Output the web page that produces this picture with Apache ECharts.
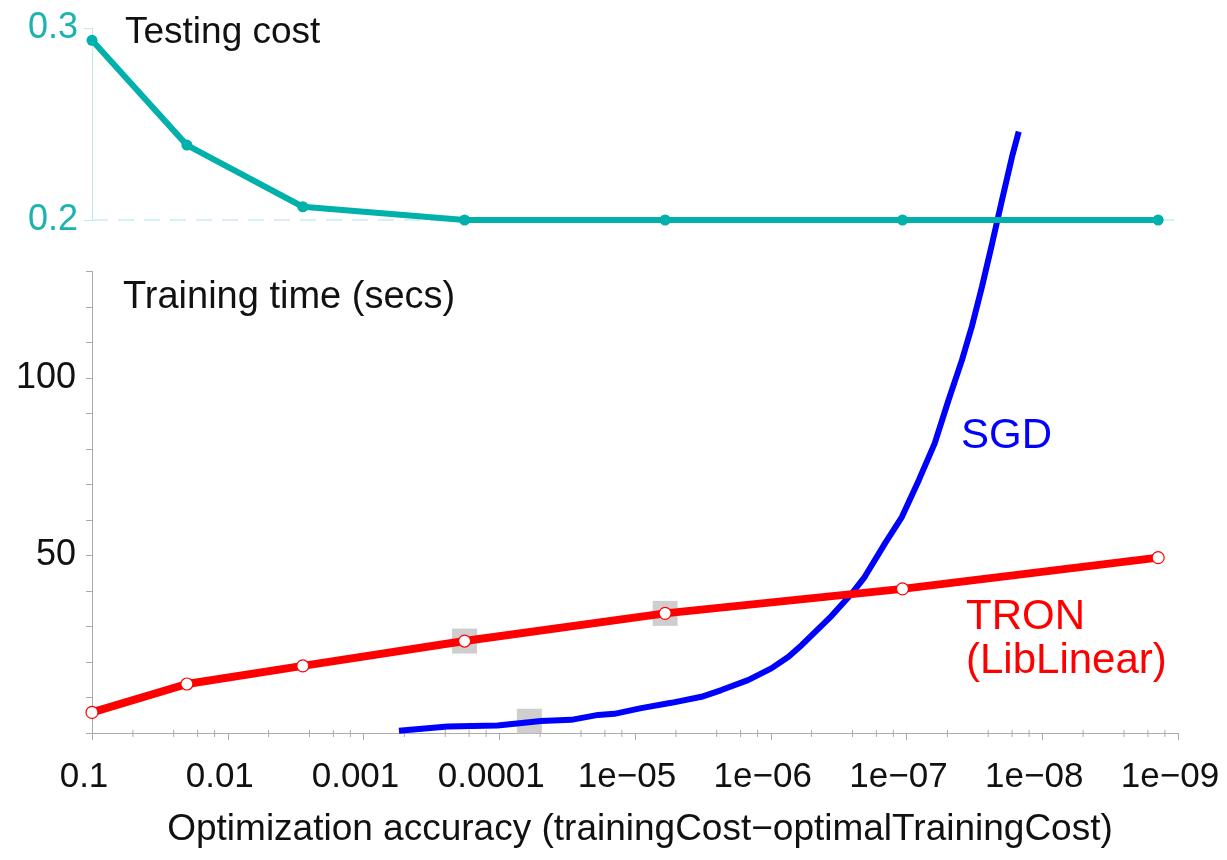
<!DOCTYPE html>
<html><head><meta charset="utf-8">
<script src="https://cdn.jsdelivr.net/npm/echarts@6/dist/echarts.min.js"></script>
<style>html,body{margin:0;background:#fff}#c{width:1227px;height:860px}</style>
</head><body><div id="c"></div>
<script>
// x axis decades (-log10 of accuracy) 1..9 and their labels
const xTickLabels = ['0.1','0.01','0.001','0.0001','1e\u221205','1e\u221206','1e\u221207','1e\u221208','1e\u221209'];
const minorTickFactors = [2, 4, 6, 8];

// Testing cost & TRON (LibLinear) are measured at the same accuracies
const tronAcc  = [0.1, 0.02, 0.0028, 0.00018, 6e-6, 1.07e-7, 1.4e-9];
const testCost = [0.2936, 0.2390, 0.2069, 0.2, 0.2, 0.2, 0.2];
const tronTime = [5.8, 13.8, 18.9, 25.9, 33.7, 40.6, 49.4];

// SGD training time curve
const sgdAcc  = [5.48e-4, 2.40e-4, 1.03e-4, 4.92e-5, 2.95e-5, 1.87e-5, 1.42e-5, 9.0e-6, 5.4e-6, 3.24e-6,
                 2.31e-6, 1.47e-6, 9.9e-7, 7.4e-7, 5.9e-7, 3.56e-7, 2.54e-7, 2.03e-7, 1.44e-7, 1.08e-7,
                 8.1e-8, 6.2e-8, 4.9e-8, 3.9e-8, 3.3e-8, 2.78e-8, 2.34e-8, 1.98e-8, 1.67e-8, 1.49e-8];
const sgdTime = [0.65, 1.8, 2.1, 3.4, 3.7, 5.1, 5.4, 7.0, 8.5, 10.2,
                 12.1, 14.9, 18.2, 21.5, 24.8, 33.0, 39.2, 44.0, 53.4, 60.9,
                 71.3, 81.6, 93.8, 105.1, 114.5, 125.7, 137.9, 150.1, 162.3, 169.4];

// grey highlight squares
const markAcc  = [1.8e-4, 6e-5, 6e-6];
const markTime = [25.9, 3.3, 33.7];

const dec = a => -Math.log10(a);
const minorTicks = [];
for (let d = 1; d < 9; d++) minorTickFactors.forEach(f => minorTicks.push([dec(Math.pow(10, -d) / f), 0]));

const FONT = '"Liberation Sans", Arial, Helvetica, sans-serif';
const TEAL = '#00b0aa';

const chart = echarts.init(document.getElementById('c'), null, {renderer: 'canvas'});
chart.setOption({
  animation: false,
  backgroundColor: '#fff',
  textStyle: {fontFamily: FONT},
  grid: [
    {left: 92, right: 49, top: 28, height: 192, containLabel: false, outerBoundsMode: 'none'},
    {left: 92, right: 49, top: 271.5, bottom: 127, containLabel: false, outerBoundsMode: 'none'}
  ],
  xAxis: [
    {gridIndex: 0, type: 'value', min: 1, max: 9, interval: 1, show: false},
    {gridIndex: 1, type: 'value', min: 1, max: 9, interval: 1,
     axisLine: {lineStyle: {color: '#aaaaaa', width: 1}},
     axisTick: {length: 7, lineStyle: {color: '#aaaaaa'}},
     splitLine: {show: false},
     axisLabel: {color: '#111', fontSize: 35, fontFamily: FONT, margin: 27, padding: [0, 16, 0, 0],
                 formatter: v => xTickLabels[Math.round(v) - 1]},
     name: 'Optimization accuracy (trainingCost\u2212optimalTrainingCost)',
     nameLocation: 'middle', nameGap: 78,
     nameTextStyle: {color: '#111', fontSize: 37, fontFamily: FONT, padding: [0, 0, 0, 10]}}
  ],
  yAxis: [
    {gridIndex: 0, type: 'value', min: 0.2, max: 0.3, interval: 0.1,
     axisLine: {show: true, lineStyle: {color: '#bfeaea', width: 1}},
     axisTick: {show: true, length: 8, lineStyle: {color: '#bfeaea'}},
     splitLine: {show: false},
     axisLabel: {color: '#1ab3ae', fontSize: 36, fontFamily: FONT, margin: 14,
                 formatter: v => v.toFixed(1)}},
    {gridIndex: 1, type: 'value', min: 0, max: 130, interval: 10,
     axisLine: {show: true, lineStyle: {color: '#aaaaaa', width: 1}},
     axisTick: {show: true, length: 6, lineStyle: {color: '#aaaaaa'}},
     splitLine: {show: false},
     axisLabel: {color: '#111', fontSize: 36, fontFamily: FONT, margin: 16,
                 formatter: v => (v === 50 || v === 100) ? String(v) : ''}}
  ],
  graphic: [
    {type: 'text', left: 125, top: 14, style: {text: 'Testing cost', fontSize: 37, fontFamily: FONT, fill: '#111'}},
    {type: 'text', left: 123, top: 279, style: {text: 'Training time (secs)', fontSize: 38, fontFamily: FONT, fill: '#111'}},
    {type: 'text', left: 961, top: 415, style: {text: 'SGD', fontSize: 42, fontFamily: FONT, fill: '#0000ff'}},
    {type: 'text', left: 966, top: 595, style: {text: 'TRON\n(LibLinear)', fontSize: 42, lineHeight: 44, fontFamily: FONT, fill: '#ff0000'}}
  ],
  series: [
    {type: 'scatter', xAxisIndex: 1, yAxisIndex: 1, symbol: 'rect', symbolSize: 25, z: 1,
     itemStyle: {color: '#c2c2c2'}, silent: true,
     data: markAcc.map((a, i) => [dec(a), markTime[i]])},
    {type: 'custom', xAxisIndex: 1, yAxisIndex: 1, silent: true, clip: false, z: 1,
     renderItem: (params, api) => {
       const p = api.coord([api.value(0), api.value(1)]);
       return {type: 'line', shape: {x1: p[0], y1: p[1] - 3, x2: p[0], y2: p[1] + 4},
               style: {stroke: '#aaaaaa', lineWidth: 1}};
     },
     data: minorTicks},
    {type: 'line', xAxisIndex: 1, yAxisIndex: 1, clip: false, z: 3, showSymbol: false, symbol: 'none',
     lineStyle: {color: '#0000ff', width: 6},
     data: sgdAcc.map((a, i) => [dec(a), sgdTime[i]])},
    {type: 'line', xAxisIndex: 1, yAxisIndex: 1, z: 4, symbol: 'circle', symbolSize: 12,
     lineStyle: {color: '#ff0000', width: 8},
     itemStyle: {color: '#ffffff', borderColor: '#ff0000', borderWidth: 1.2},
     data: tronAcc.map((a, i) => [dec(a), tronTime[i]])},
    {type: 'line', xAxisIndex: 0, yAxisIndex: 0, z: 5, symbol: 'circle', symbolSize: 11, clip: false,
     lineStyle: {color: TEAL, width: 6}, itemStyle: {color: TEAL},
     markLine: {silent: true, symbol: 'none', label: {show: false},
                lineStyle: {color: '#c6eeee', type: [16, 10], width: 1.5},
                data: [{yAxis: 0.2}]},
     data: tronAcc.map((a, i) => [dec(a), testCost[i]])}
  ]
});
</script></body></html>
